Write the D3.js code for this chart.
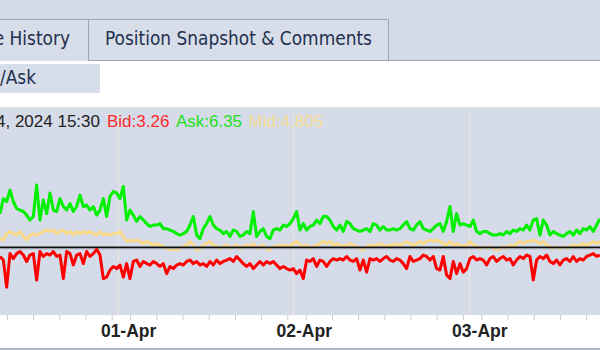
<!doctype html>
<html>
<head>
<meta charset="UTF-8" />
<script src="https://cdn.jsdelivr.net/npm/d3@7"></script>
<style>
  body { margin: 0; background: #d4dae6; }
  svg { display: block; }
</style>
</head>
<body>
<svg id="chart" width="600" height="350"></svg>
<script>
(function(){
  "use strict";

  // --- data -------------------------------------------------------------
  const startTime = new Date(2024, 2, 31, 7, 56);   // first visible sample
  const endTime = new Date(2024, 3, 3, 17, 56);     // right edge of the view
  const stepMinutes = 27.33;                         // spacing of samples
  const dayLabels = ["2024-03-31", "2024-04-01", "2024-04-02", "2024-04-03"];
  const tickOffsetHours = 1.72;                      // label tick after midnight
  const minorStepHours = 3.58;                       // minor ticks after each label

  const askValues = [
    8.9, 11.0, 10.6, 12.2, 10.6, 9.6, 9.4, 9.2, 8.7, 8.0,
    8.5, 12.9, 8.0, 10.8, 8.9, 11.8, 9.4, 9.2, 11.0, 9.9,
    9.4, 10.3, 9.2, 9.9, 11.5, 9.9, 10.1, 9.4, 9.9, 8.7,
    9.4, 11.0, 8.5, 11.3, 12.0, 11.8, 11.0, 12.7, 8.0, 9.4,
    8.7, 7.8, 8.5, 8.0, 7.5, 7.1, 7.3, 7.3, 7.5, 6.8,
    6.8, 6.6, 6.4, 6.1, 5.9, 6.1, 6.4, 7.3, 8.5, 5.9,
    5.4, 6.8, 7.5, 8.5, 7.3, 6.8, 6.6, 6.1, 6.4, 5.7,
    6.6, 6.4, 5.7, 5.9, 6.4, 6.1, 9.2, 5.7, 6.4, 6.8,
    5.7, 5.4, 6.6, 6.8, 6.6, 7.3, 7.1, 7.5, 8.2, 9.2,
    6.6,
    7.5, 6.6, 7.1, 7.3, 8.0, 7.5, 8.5, 8.5, 8.0, 7.1,
    6.6, 7.3, 6.4, 7.8, 7.5, 6.8, 6.6, 6.4, 6.6, 6.8,
    6.4, 7.5, 7.3, 6.6, 7.1, 6.6, 6.6, 6.8, 6.6, 6.8,
    7.3, 7.8, 6.8, 6.6, 7.3, 7.8, 6.8, 6.6, 6.4, 6.8,
    7.3, 7.5, 6.4, 7.8, 9.9, 6.4, 8.9, 7.3, 7.5, 7.3,
    7.1, 8.0, 6.4, 6.1, 6.4, 6.4, 6.1, 5.9, 5.9, 6.1,
    5.9, 6.4, 6.1, 6.6, 6.4, 6.8, 6.6, 7.3, 6.6, 8.0,
    8.2, 5.9, 8.0, 7.3, 5.9, 6.4, 6.1, 5.9, 5.7, 6.1,
    6.4, 5.9, 6.6, 6.1, 6.8, 6.6, 7.1, 6.4, 7.3, 8.2
  ];
  const bidValues = [
    2.9, 2.4, -1.4, 3.3, 2.6, 3.3, 3.6, 3.1, 2.2, 3.1,
    3.3, -0.4, 3.6, 2.9, 3.3, 3.1, 3.6, 2.9, 3.1, -0.2,
    3.6, 3.3, 1.7, 3.1, 3.3, 1.9, 3.6, 2.9, 3.3, 3.9,
    3.1, -0.2, 0.0, 1.0, 1.5, 1.2, 1.7, 0.0, 1.9, -0.2,
    2.2, 2.4, 1.5, 2.2, 1.9, 1.7, 2.2, 1.9, 1.5, 1.9,
    0.5, 1.5, 1.2, 1.7, 1.9, 1.7, 2.2, 2.4, 1.9, 2.2,
    1.7, 1.9, 1.5, 2.2, 1.7, 2.4, 1.9, 2.2, 2.4, 2.6,
    2.2, 2.9, 2.4, 1.9, 1.5, 1.9, 1.2, 1.7, 2.2, 1.7,
    2.2, 1.9, 2.2, 1.7, 1.2, 1.5, 1.2, 1.0, 1.2, 0.5,
    1.0,
    -0.2, 2.4, 2.2, 2.6, 1.5, 2.4, 2.2, 1.5, 2.2, 2.6,
    2.4, 2.6, 2.4, 2.9, 2.4, 2.2, 2.6, 1.0, 2.4, 0.7,
    2.6, 2.4, 2.6, 2.2, 2.6, 2.9, 2.4, 2.2, 2.6, 2.4,
    1.9, 1.2, 2.9, 2.2, 2.4, 2.6, 3.1, 2.9, 2.4, 2.9,
    1.2, 1.0, 2.9, 0.3, -0.2, 2.2, 0.5, 1.9, 0.7, 1.2,
    2.6, 2.9, 2.4, 2.6, 2.4, 1.7, 2.6, 2.9, 2.2, 2.6,
    2.9, 2.4, 2.6, 1.7, 2.4, 2.9, 2.6, 3.1, 2.9, -0.4,
    2.4, 2.9, 2.6, 3.1, 2.2, 1.9, 2.4, 1.7, 2.4, 2.6,
    2.2, 2.9, 2.2, 2.6, 2.4, 2.9, 3.1, 3.3, 2.9, 3.1
  ];
  const midValues = [
    5.4, 5.2, 6.1, 6.4, 6.1, 5.9, 6.4, 5.7, 5.2, 5.9,
    6.1, 5.9, 6.1, 6.4, 6.6, 6.4, 6.6, 6.1, 6.4, 6.6,
    6.1, 6.4, 5.9, 6.4, 6.1, 6.4, 6.1, 6.4, 6.1, 5.9,
    6.4, 5.9, 6.1, 5.9, 6.1, 6.1, 6.4, 5.7, 5.0, 5.2,
    5.0, 5.2, 5.0, 4.7, 5.0, 4.7, 4.5, 4.7, 4.5, 4.3,
    4.0, 3.8, 4.0, 3.8, 4.0, 4.3, 4.5, 5.0, 4.5, 3.8,
    4.0, 4.5, 4.7, 5.0, 4.5, 4.3, 4.0, 4.3, 4.5, 4.0,
    4.3, 4.5, 4.0, 4.3, 4.5, 4.3, 4.7, 4.0, 4.3, 4.5,
    4.0, 3.8, 4.3, 4.3, 4.5, 4.3, 4.5, 4.3, 4.7, 5.0,
    4.5,
    4.3, 4.5, 4.0, 4.3, 4.5, 4.7, 5.0, 4.7, 5.0, 4.5,
    4.7, 4.5, 4.3, 4.5, 4.7, 4.5, 4.3, 4.0, 3.8, 4.3,
    4.5, 4.3, 4.5, 4.7, 4.5, 4.3, 4.5, 4.5, 4.7, 4.5,
    4.7, 5.0, 4.7, 4.5, 4.7, 5.0, 4.7, 5.0, 5.2, 5.0,
    5.2, 5.0, 4.7, 4.5, 5.0, 4.5, 4.7, 4.5, 4.3, 4.5,
    5.0, 4.5, 4.3, 4.0, 4.3, 4.0, 4.3, 4.0, 3.8, 4.0,
    4.3, 4.0, 4.5, 4.3, 4.7, 5.0, 4.7, 5.0, 5.0, 5.2,
    5.0, 4.7, 5.0, 4.5, 4.3, 4.0, 4.3, 4.0, 4.3, 4.0,
    4.3, 4.5, 4.3, 4.5, 4.7, 4.5, 4.7, 5.0, 4.7, 5.0
  ];
  const refLevel = 4.2;

  const tabLabels = ["Price History", "Position Snapshot & Comments"];
  const subTabLabel = "Bid/Ask";
  const headerDate = "Apr 04, 2024 15:30";
  const headerBid = 3.26, headerAsk = 6.35, headerMid = 4.805;

  // --- setup -----------------------------------------------------------
  const W = 600, H = 350;
  const plotTop = 108, plotBottom = 315;
  const svg = d3.select("#chart");
  const parseDay = d3.timeParse("%Y-%m-%d");
  const days = dayLabels.map(parseDay);
  const times = askValues.map((v, i) => new Date(+startTime + i * stepMinutes * 60000));

  const x = d3.scaleTime().domain([startTime, endTime]).range([0, W]);
  const y = d3.scaleLinear().domain([-5.3, 23.7]).range([plotBottom, plotTop]);

  // background
  svg.append("rect").attr("width", W).attr("height", H).attr("fill", "#d4dae6");

  // tabs
  const tabFont = "'DejaVu Sans Condensed', 'DejaVu Sans', sans-serif";
  svg.append("rect").attr("x", -2).attr("y", 19).attr("width", 90).attr("height", 42).attr("fill", "#d7dde9");
  svg.append("rect").attr("x", 88).attr("y", 19).attr("width", 300).attr("height", 41).attr("fill", "#d7dde9");
  svg.append("path")
     .attr("d", "M0,19.5H388.5V60.5M88.5,19.5V60.5H600")
     .attr("fill", "none").attr("stroke", "#9ba7b6").attr("stroke-width", 1);

  // white panel with the sub tab
  svg.append("rect").attr("x", 0).attr("y", 61).attr("width", W).attr("height", 46).attr("fill", "#ffffff");
  svg.append("rect").attr("x", 0).attr("y", 64).attr("width", 100).attr("height", 29).attr("fill", "#d7dde9");
  svg.append("line").attr("x1", 0).attr("x2", W).attr("y1", 107.5).attr("y2", 107.5).attr("stroke", "#e3e3dc");

  const tab2 = svg.append("text")
     .attr("x", 105).attr("y", 45)
     .attr("font-family", tabFont).attr("font-size", 17)
     .attr("fill", "#23304f")
     .text(tabLabels[1]);
  // fit tab font to the width in the screenshot
  const tabSize = 17 * 267 / tab2.node().getComputedTextLength();
  tab2.attr("font-size", tabSize);
  svg.append("text")
     .attr("x", 70).attr("y", 45).attr("text-anchor", "end")
     .attr("font-family", tabFont).attr("font-size", tabSize)
     .attr("fill", "#23304f")
     .text(tabLabels[0]);
  svg.append("text")
     .attr("x", 36).attr("y", 84).attr("text-anchor", "end")
     .attr("font-family", tabFont).attr("font-size", tabSize)
     .attr("fill", "#23304f")
     .text(subTabLabel);

  // plot area
  svg.append("rect").attr("x", 0).attr("y", plotTop).attr("width", W).attr("height", plotBottom - plotTop).attr("fill", "#d5dbe8");

  // day gridlines
  svg.append("g").selectAll("line")
     .data(days.slice(1))
     .enter().append("line")
     .attr("x1", d => Math.round(x(d)) + 0.5).attr("x2", d => Math.round(x(d)) + 0.5)
     .attr("y1", plotTop).attr("y2", plotBottom)
     .attr("stroke", "#e9e5df").attr("stroke-width", 1);

  // header readout
  const hdrFont = "'Liberation Sans', Arial, sans-serif";
  svg.append("text")
     .attr("x", 100).attr("y", 127).attr("text-anchor", "end")
     .attr("font-family", hdrFont).attr("font-size", 17).attr("fill", "#222")
     .text(headerDate);
  let hx = 107;
  [["Bid:" + headerBid, "#ff2a2a"], ["Ask:" + headerAsk, "#22e022"], ["Mid:" + headerMid, "#f6dc95"]].forEach(function(p){
    const t = svg.append("text")
       .attr("x", hx).attr("y", 127)
       .attr("font-family", hdrFont).attr("font-size", 17).attr("fill", p[1])
       .text(p[0]);
    hx += t.node().getComputedTextLength() + 6.5;
  });

  // series
  svg.append("clipPath").attr("id", "plotClip")
     .append("rect").attr("x", 0).attr("y", plotTop).attr("width", W).attr("height", plotBottom - plotTop);
  const plot = svg.append("g").attr("clip-path", "url(#plotClip)");
  const line = d3.line().x((d, i) => x(times[i])).y(d => y(d));

  plot.append("path").datum(midValues)
      .attr("d", line).attr("fill", "none")
      .attr("stroke", "#fad98a").attr("stroke-width", 3).attr("stroke-linejoin", "round");

  plot.append("line")
      .attr("x1", 0).attr("x2", W).attr("y1", y(refLevel) + 1.5).attr("y2", y(refLevel) + 1.5)
      .attr("stroke", "#8d8f96").attr("stroke-width", 1);
  plot.append("line")
      .attr("x1", 0).attr("x2", W).attr("y1", y(refLevel)).attr("y2", y(refLevel))
      .attr("stroke", "#111").attr("stroke-width", 1.6);

  plot.append("path").datum(askValues)
      .attr("d", line).attr("fill", "none")
      .attr("stroke", "#00f000").attr("stroke-width", 3).attr("stroke-linejoin", "round");
  plot.append("path").datum(bidValues)
      .attr("d", line).attr("fill", "none")
      .attr("stroke", "#ff0000").attr("stroke-width", 3).attr("stroke-linejoin", "round");

  // x axis strip
  svg.append("rect").attr("x", 0).attr("y", plotBottom).attr("width", W).attr("height", 33).attr("fill", "#ffffff");
  svg.append("rect").attr("x", 0).attr("y", 348).attr("width", W).attr("height", 2).attr("fill", "#aab5c4");

  const labelTicks = days.map(d => d3.timeMinute.offset(d, Math.round(tickOffsetHours * 60)));
  const minorTicks = [];
  labelTicks.forEach(function(t){
    d3.range(1, 7).forEach(function(k){
      minorTicks.push(new Date(+t + k * minorStepHours * 3600000));
    });
  });

  const minorAxis = svg.append("g")
     .attr("transform", "translate(0," + plotBottom + ")")
     .call(d3.axisBottom(x).tickValues(minorTicks).tickSize(5).tickFormat(""));
  const labelAxis = svg.append("g")
     .attr("transform", "translate(0," + plotBottom + ")")
     .call(d3.axisBottom(x).tickValues(labelTicks.slice(1)).tickSize(5).tickPadding(4.6)
           .tickFormat(d3.timeFormat("%d-%b")));
  [minorAxis, labelAxis].forEach(function(g){
    g.select(".domain").remove();
    g.selectAll(".tick line").attr("stroke", "#c9c9c9");
  });
  labelAxis.selectAll(".tick text")
     .attr("dx", -2)
     .attr("font-family", hdrFont).attr("font-size", 17.5).attr("font-weight", "bold")
     .attr("fill", "#222");
})();
</script>
</body>
</html>
